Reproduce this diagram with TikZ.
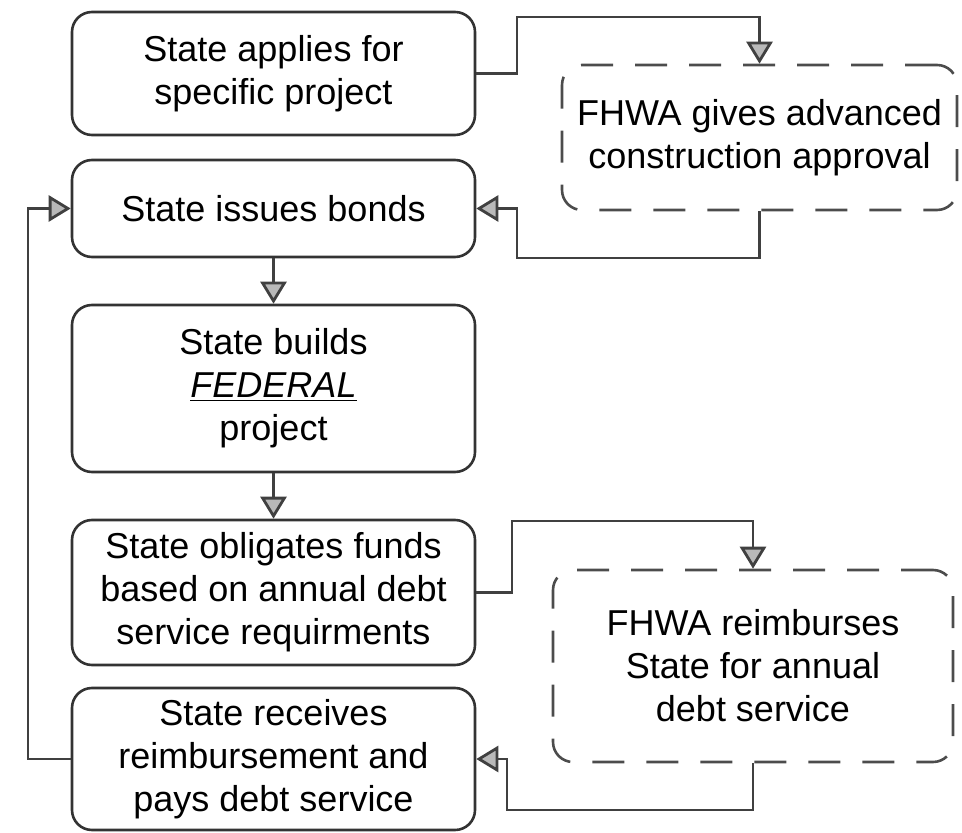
\documentclass[tikz,border=0pt]{standalone}
\usepackage{fontspec}
\setmainfont{Liberation Sans}
\usetikzlibrary{arrows.meta}

\begin{document}
\begin{tikzpicture}[x=0.5pt, y=-0.5pt,
		stepbox/.style={draw=black!80, line width=1.3pt, rounded corners=10pt, align=center, inner sep=0pt, font=\fontsize{18}{21.5}\selectfont},
		fhwabox/.style={stepbox, draw=black!70, dash pattern=on 16pt off 11pt},
		flow/.style={draw=black!75, line width=1.4pt, -{Triangle[length=11pt, width=13pt, fill=gray!55]}}]
	\useasboundingbox (0,0) rectangle (962,833);

		\node (apply) [stepbox, minimum width=201.5pt, minimum height=61.5pt] at (273.5,73.5) {State applies for\\specific project};
		\node (approve) [fhwabox, minimum width=197.5pt, minimum height=72.5pt] at (759.5,137.5) {FHWA gives advanced\\construction approval};
		\node (bonds) [stepbox, minimum width=201.5pt, minimum height=48.5pt] at (273.5,208.5) {State issues bonds};
		\node (build) [stepbox, minimum width=201.5pt, minimum height=83.5pt] at (273.5,388.5) {State builds\\\underline{\textit{FEDERAL}}\\project};
		\node (obligate) [stepbox, minimum width=201.5pt, minimum height=72.5pt] at (273.5,592.5) {State obligates funds\\based on annual debt\\service requirments};
		\node (reimburse) [fhwabox, minimum width=200pt, minimum height=96pt] at (753,666) {FHWA reimburses\\State for annual\\debt service};
		\node (receive) [stepbox, minimum width=201.5pt, minimum height=71pt] at (273.5,759) {State receives\\reimbursement and\\pays debt service};

		% approval loop
		\draw[flow] (apply.east) -| (517,17) -| (approve.north);
		\draw[flow] (approve.south) |- (517,258) |- (bonds.east);

		\draw[flow] (bonds) -- (build);
		\draw[flow] (build) -- (obligate);

		% reimbursement loop
		\draw[flow] (obligate.east) -| (512,521) -| (reimburse.north);
		\draw[flow] (reimburse.south) |- (507,810) |- (receive.east);

		\coordinate (back) at (28,0);
		\draw[flow] (receive.west) -| (back |- bonds.west) -- (bonds.west);

\end{tikzpicture}
\end{document}
